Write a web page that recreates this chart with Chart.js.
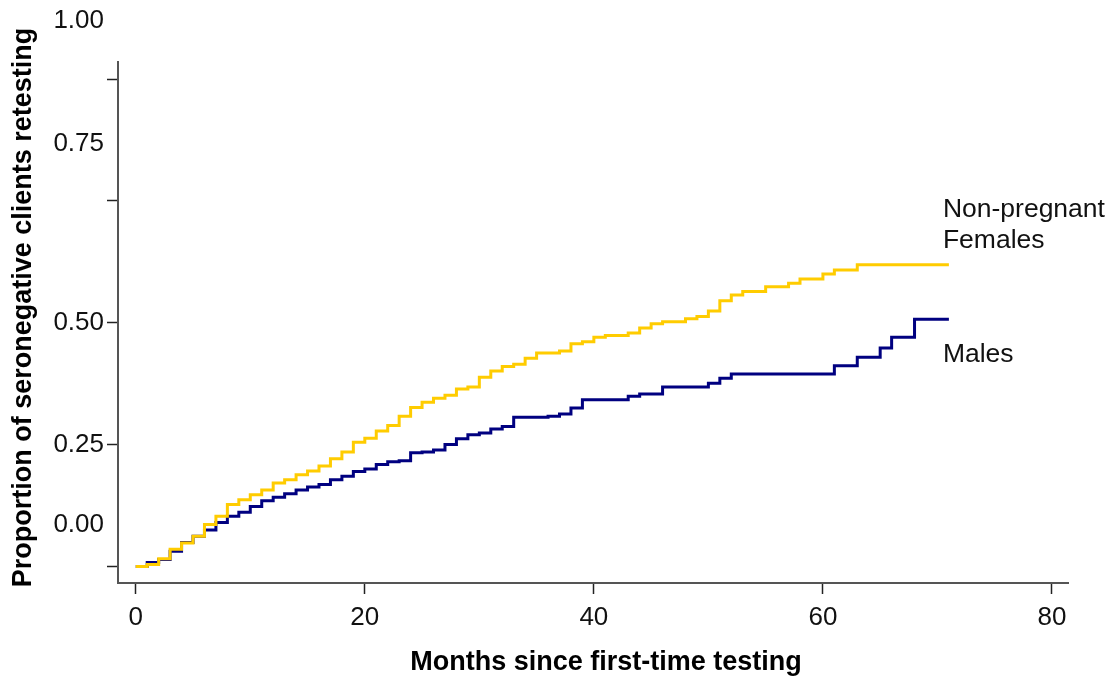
<!DOCTYPE html>
<html>
<head>
<meta charset="utf-8">
<title>Retesting among seronegative clients</title>
<script src="https://cdn.jsdelivr.net/npm/chart.js@4.4.1/dist/chart.umd.min.js"></script>
<style>
  html, body { margin: 0; padding: 0; background: #fff; }
  #wrap { width: 1114px; height: 681px; }
</style>
</head>
<body>
<div id="wrap"><canvas id="kmChart" width="1114" height="681"></canvas></div>
<script>
/* ── Data: cumulative proportion retesting, by month ── */
const months = [
  0, 1, 2, 3, 4, 5, 6, 7, 8, 9,
  10, 11, 12, 13, 14, 15, 16, 17, 18, 19,
  20, 21, 22, 23, 24, 25, 26, 27, 28, 29,
  30, 31, 32, 33, 34, 35, 36, 37, 38, 39,
  40, 41, 42, 43, 44, 45, 46, 47, 48, 49,
  50, 51, 52, 53, 54, 55, 56, 57, 58, 59,
  60, 61, 62, 63, 64, 65, 66, 67, 68, 69,
  70, 71
];

const femaleRetest = [
  0, 0.004, 0.016, 0.035, 0.048, 0.062, 0.086, 0.103, 0.127, 0.137,
  0.147, 0.157, 0.171, 0.178, 0.188, 0.196, 0.206, 0.221, 0.235, 0.255,
  0.263, 0.278, 0.289, 0.308, 0.326, 0.337, 0.345, 0.351, 0.364, 0.368,
  0.388, 0.401, 0.410, 0.415, 0.427, 0.438, 0.438, 0.442, 0.457, 0.461,
  0.470, 0.474, 0.474, 0.479, 0.489, 0.498, 0.502, 0.502, 0.508, 0.513,
  0.524, 0.545, 0.557, 0.564, 0.564, 0.574, 0.574, 0.581, 0.590, 0.590,
  0.600, 0.608, 0.608, 0.619, 0.619, 0.619, 0.619, 0.619, 0.619, 0.619,
  0.619, 0.619
];

const maleRetest = [
  0, 0.008, 0.014, 0.031, 0.049, 0.062, 0.075, 0.090, 0.103, 0.111,
  0.123, 0.135, 0.142, 0.149, 0.157, 0.163, 0.168, 0.178, 0.185, 0.195,
  0.200, 0.209, 0.215, 0.217, 0.233, 0.235, 0.239, 0.250, 0.262, 0.270,
  0.274, 0.282, 0.287, 0.306, 0.306, 0.306, 0.308, 0.313, 0.325, 0.342,
  0.342, 0.342, 0.342, 0.349, 0.354, 0.354, 0.368, 0.368, 0.368, 0.368,
  0.376, 0.386, 0.395, 0.395, 0.395, 0.395, 0.395, 0.395, 0.395, 0.395,
  0.395, 0.412, 0.412, 0.429, 0.429, 0.448, 0.470, 0.470, 0.507, 0.507,
  0.507, 0.507
];

const femaleLabel = ['Non-pregnant', 'Females'];
const maleLabel   = ['Males'];

const xTicks = [0, 20, 40, 60, 80];
const yTicks = [0, 0.25, 0.5, 0.75, 1];
const yTickText = ['0.00', '0.25', '0.50', '0.75', '1.00'];

const xTitle = 'Months since first-time testing';
const yTitle = 'Proportion of seronegative clients retesting';

const FONT = '"Liberation Sans", Arial, Helvetica, sans-serif';
const YELLOW = '#FFCC00';
const NAVY   = '#000080';

const toPoints = vals => months.map((m, i) => ({ x: m, y: vals[i] }));

/* ── Y tick labels (drawn by hand so each can sit where the original put it) ── */
const yLabelPlugin = {
  id: 'yLabels',
  afterDraw(chart, args, opts) {
    const y = chart.scales.y;
    const ctx = chart.ctx;
    ctx.save();
    ctx.font = `26px ${FONT}`;
    ctx.fillStyle = '#111';
    ctx.textAlign = 'right';
    ctx.textBaseline = 'middle';
    y.ticks.forEach((t, i) => {
      ctx.fillText(yTickText[i], y.right - opts.gap, y.getPixelForValue(t.value) + opts.shift[i]);
    });
    ctx.restore();
  }
};

/* ── Axis titles, nudged off the plot centre like the Stata export ── */
const axisTitlePlugin = {
  id: 'axisTitles',
  afterDraw(chart, args, opts) {
    const { ctx, chartArea: a } = chart;
    ctx.save();
    ctx.font = `bold 27px ${FONT}`;
    ctx.fillStyle = '#000';
    ctx.textAlign = 'center';
    ctx.textBaseline = 'middle';
    ctx.fillText(xTitle, (a.left + a.right) / 2 + opts.xShift, opts.xTitleY);
    ctx.translate(opts.yTitleX, (a.top + a.bottom) / 2 + opts.yShift);
    ctx.rotate(-Math.PI / 2);
    ctx.fillText(yTitle, 0, 0);
    ctx.restore();
  }
};

/* ── Series names next to the end of each curve ── */
const endLabelPlugin = {
  id: 'endLabels',
  afterDatasetsDraw(chart, args, opts) {
    const ctx = chart.ctx;
    ctx.save();
    ctx.font = `26.5px ${FONT}`;
    ctx.fillStyle = '#111';
    ctx.textAlign = 'left';
    ctx.textBaseline = 'alphabetic';
    opts.items.forEach(item => {
      const pts = chart.getDatasetMeta(item.dataset).data;
      const last = pts[pts.length - 1];
      item.lines.forEach((txt, j) => {
        ctx.fillText(txt, last.x + item.dx, last.y + item.dy + j * item.lineGap);
      });
    });
    ctx.restore();
  }
};

const axisTicks = values => scale => { scale.ticks = values.map(v => ({ value: v })); };

new Chart(document.getElementById('kmChart'), {
  type: 'line',
  data: {
    datasets: [
      {
        label: femaleLabel.join(' '),
        data: toPoints(femaleRetest),
        borderColor: YELLOW,
        borderWidth: 3,
        stepped: true,
        pointRadius: 0,
        fill: false,
      },
      {
        label: maleLabel[0],
        data: toPoints(maleRetest),
        borderColor: NAVY,
        borderWidth: 3,
        stepped: true,
        pointRadius: 0,
        fill: false,
      },
    ],
  },
  options: {
    responsive: false,
    animation: false,
    devicePixelRatio: 1,
    layout: { padding: { top: 62, right: 46, left: 0, bottom: 0 } },
    scales: {
      x: {
        type: 'linear',
        min: -1.55,
        max: 81.4,
        afterBuildTicks: axisTicks(xTicks),
        afterFit: s => { s.height = 98; },
        grid: { drawOnChartArea: false, drawTicks: true, tickLength: 11, tickColor: '#222', tickWidth: 1.5 },
        border: { display: true, color: '#555', width: 2 },
        ticks: { color: '#111', font: { family: FONT, size: 26 }, padding: 8, maxRotation: 0 },
      },
      y: {
        min: -0.034,
        max: 1.035,
        afterBuildTicks: axisTicks(yTicks),
        afterFit: s => { s.width = 118; },
        grid: { drawOnChartArea: false, drawTicks: true, tickLength: 11, tickColor: '#222', tickWidth: 1.5 },
        border: { display: true, color: '#555', width: 2 },
        ticks: { color: 'transparent', font: { family: FONT, size: 26 } },
      },
    },
    plugins: {
      legend: { display: false },
      tooltip: { enabled: false },
      yLabels: { gap: 14, shift: [-42, 0, 0, -57, -58] },
      axisTitles: { xShift: 13, xTitleY: 663, yTitleX: 24, yShift: -15 },
      endLabels: {
        items: [
          { dataset: 0, lines: femaleLabel, dx: -6, dy: -48, lineGap: 31 },
          { dataset: 1, lines: maleLabel, dx: -6, dy: 43, lineGap: 31 },
        ],
      },
    },
  },
  plugins: [yLabelPlugin, axisTitlePlugin, endLabelPlugin],
});
</script>
</body>
</html>
